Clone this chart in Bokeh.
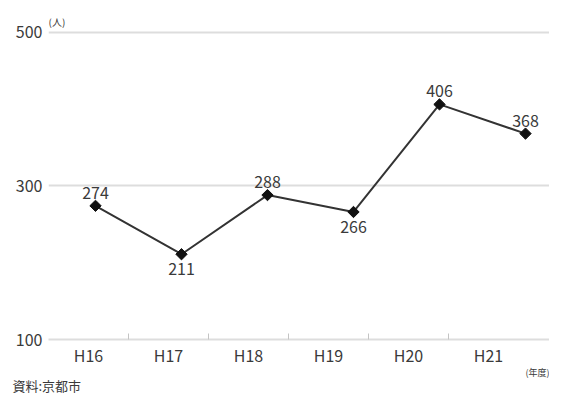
import math
from bokeh.plotting import figure
from bokeh.models import (Range1d, FixedTicker, ColumnDataSource, Label, LinearAxis, Title)
from bokeh.core.properties import value
from bokeh.embed import file_html
from bokeh.resources import INLINE

categories = ["H16", "H17", "H18", "H19", "H20", "H21"]
counts = [274, 211, 288, 266, 406, 368]
label_side = ["above", "below", "above", "below", "above", "above"]
y_ticks = [100, 300, 500]

FONT = "Noto Sans CJK JP"
TXT = "#3a3a3a"

W, H = 549, 395
FL, FT, FB = 48, 18, 346          # frame left / top / bottom in canvas px
FW = W - FL
FH = FB - FT
XPX, YPX = 80, 0.785              # px per category, px per person
p = figure(width=W, height=H, output_backend="svg", toolbar_location=None,
           x_range=Range1d(0, FW / XPX), y_range=Range1d(100, 100 + FH / YPX),
           min_border_left=FL, min_border_right=0, min_border_top=FT,
           min_border_bottom=H - FB, x_axis_location=None, y_axis_location=None)
p.outline_line_color = None
p.background_fill_color = "white"
p.border_fill_color = "white"

# x axis (categories)
xa = LinearAxis()
centers = [i + 0.5 for i in range(len(categories))]
xa.ticker = FixedTicker(ticks=centers, minor_ticks=list(range(1, len(categories))))
xa.major_label_overrides = {c: lab for c, lab in zip(centers, categories)}
xa.major_tick_line_color = None
xa.major_tick_in = 0
xa.major_tick_out = 0
xa.minor_tick_in = 6
xa.minor_tick_out = 0
xa.minor_tick_line_color = "#c4c4c4"
xa.minor_tick_line_width = 1
xa.axis_line_color = "#dddddd"
xa.axis_line_width = 2
xa.major_label_text_font = FONT
xa.major_label_text_font_size = "16px"
xa.major_label_text_color = TXT
xa.major_label_standoff = 3
p.add_layout(xa, "below")

# footer texts (below the axis)
p.add_layout(Title(text="(年度)", align="right", standoff=-12, offset=0,
                   text_font=FONT, text_font_size="9px", text_font_style="normal",
                   text_color=TXT), "below")
p.add_layout(Title(text="資料:京都市", align="left", standoff=2, offset=12 - FL,
                   text_font=FONT, text_font_size="13px", text_font_style="normal",
                   text_color=TXT), "below")

# y axis
ya = LinearAxis()
ya.ticker = FixedTicker(ticks=y_ticks)
ya.axis_line_color = None
ya.major_tick_line_color = None
ya.major_tick_in = 0
ya.major_tick_out = 0
ya.minor_tick_line_color = None
ya.major_label_text_font = FONT
ya.major_label_text_font_size = "16px"
ya.major_label_text_color = TXT
ya.major_label_standoff = 6
p.add_layout(ya, "left")

p.xgrid.visible = False
p.ygrid.ticker = FixedTicker(ticks=y_ticks[1:])
p.ygrid.grid_line_color = "#dddddd"
p.ygrid.grid_line_width = 2

# data points on their own x scale
start = -47 / 86
p.extra_x_ranges = {"pts": Range1d(start, start + FW / 86)}
idx = list(range(len(categories)))
src = ColumnDataSource(dict(
    x=idx, y=counts, label=[str(v) for v in counts],
    yoff=[-13 if s == "above" else 15 for s in label_side]))
p.line("x", "y", source=src, x_range_name="pts", line_color="#333333", line_width=2)
p.scatter("x", "y", source=src, x_range_name="pts", marker="square", size=8,
          angle=math.pi / 4, fill_color="#111111", line_color="#111111")
p.text("x", "y", text="label", source=src, x_range_name="pts", y_offset="yoff",
       text_align="center", text_baseline="middle", text_font=value(FONT),
       text_font_size="16px", text_color=TXT)

p.add_layout(Label(x=0, y=500 + 11 / YPX, text="(人)",
                   text_font=FONT, text_font_size="10px", text_color=TXT,
                   text_baseline="middle"))

open("out.html", "w").write(file_html(p, INLINE))
